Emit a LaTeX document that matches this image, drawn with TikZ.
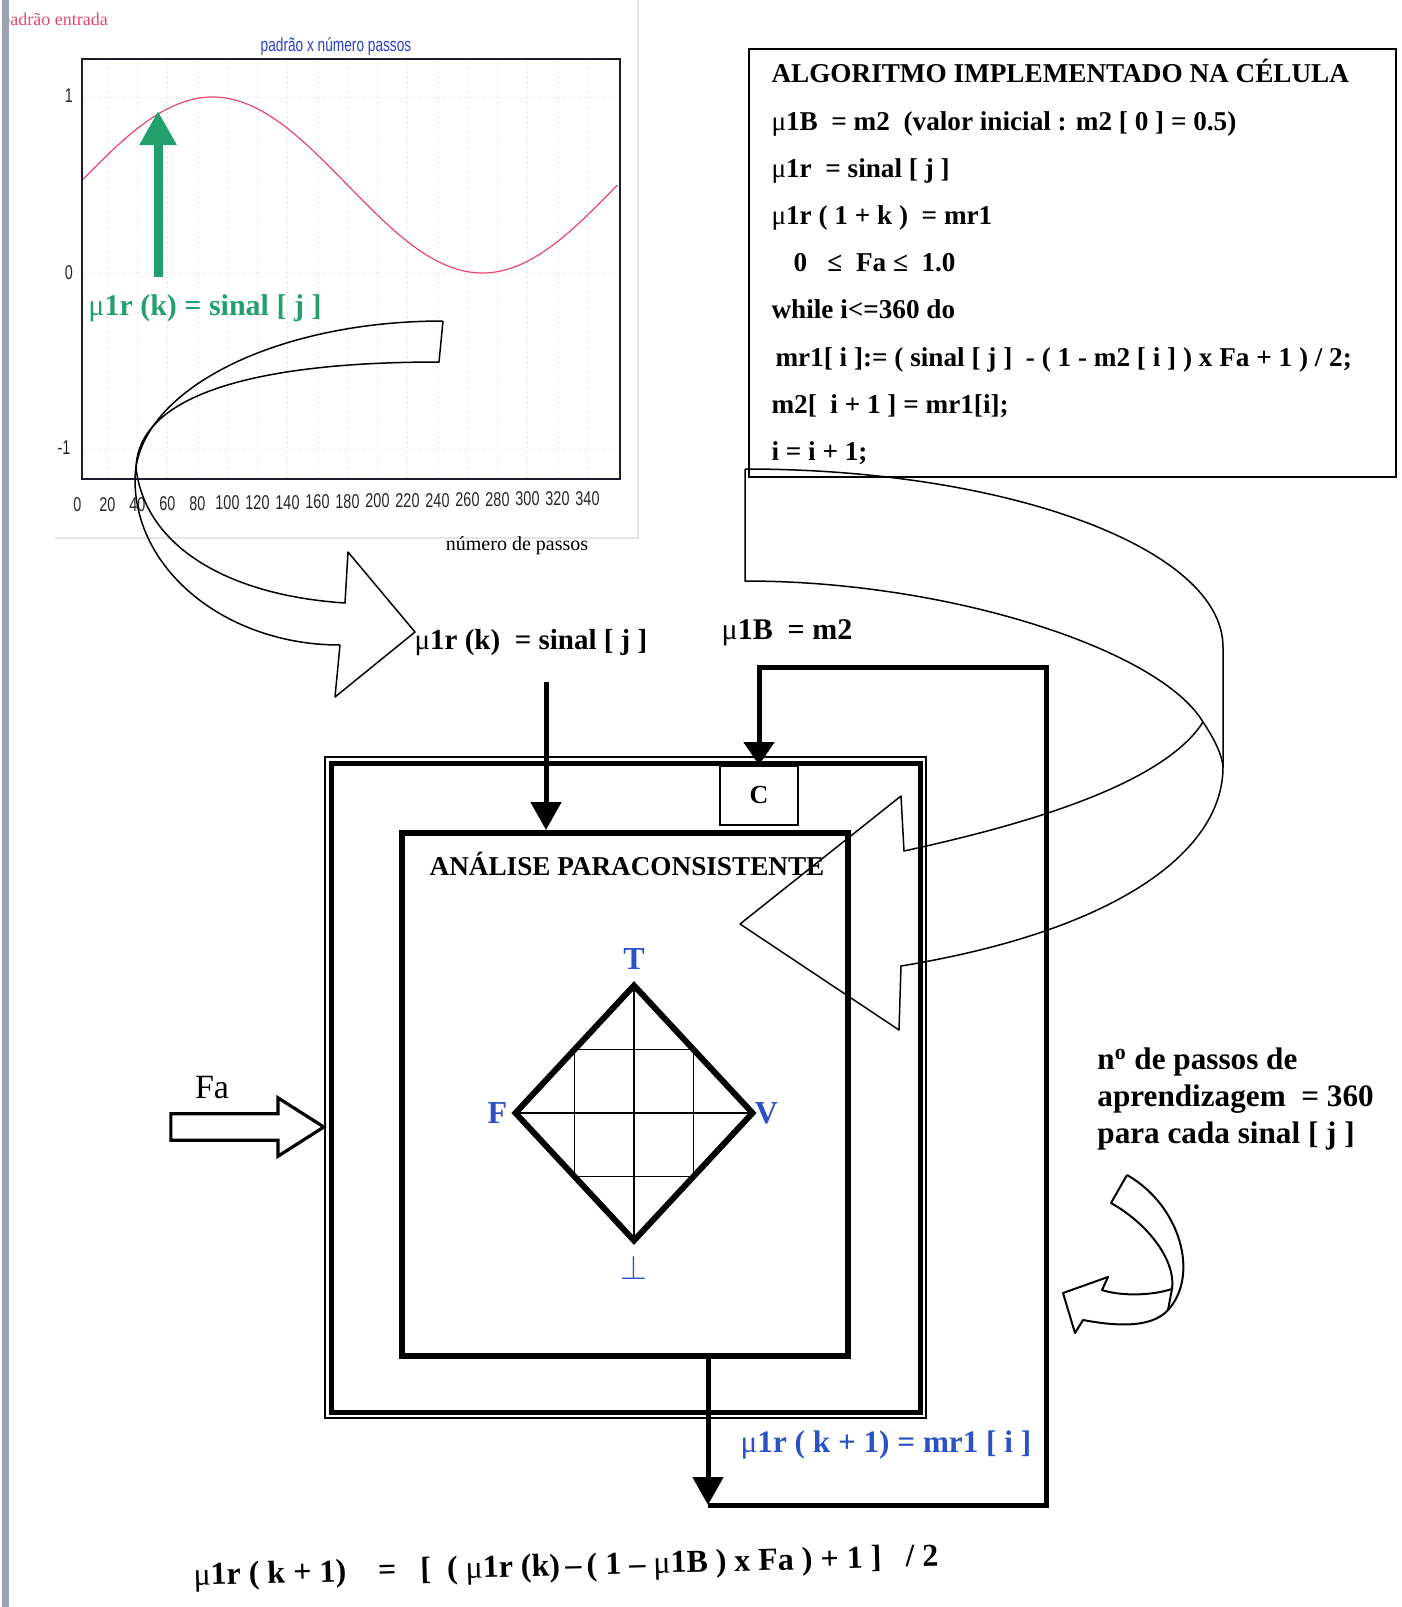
\documentclass[tikz,border=0pt]{standalone}
\usepackage{fontspec}
\setmainfont{Liberation Serif}
\newfontfamily\chartfont[FakeStretch=0.72]{Liberation Sans}
\usetikzlibrary{arrows.meta,positioning,shapes.geometric,shapes.arrows,calc}
\definecolor{plotframe}{HTML}{1C1C2C}
\definecolor{sinered}{HTML}{E8466E}
\definecolor{charttitle}{HTML}{2B3FC8}
\definecolor{signalgreen}{HTML}{22A06B}
\definecolor{cornerblue}{HTML}{2A52C4}
\definecolor{scanstrip}{HTML}{9BA3B5}
\newcommand{\mmu}{{\mdseries μ}}

\begin{document}
\begin{tikzpicture}[x=0.5pt, y=-0.5pt,
		every node/.style={inner sep=0pt},
		lbl/.style={font=\fontsize{15}{18}\selectfont\bfseries},
		ticklbl/.style={font=\chartfont\fontsize{10}{12}\selectfont, text=black!85},
		gridln/.style={gray!35, dotted, line width=0.5pt},
		plotbox/.style={draw=plotframe, line width=1.3pt,
				minimum width=269pt, minimum height=210pt},
		algframe/.style={draw, line width=0.9pt,
				minimum width=323.5pt, minimum height=214pt},
		algtext/.style={align=left, anchor=north west,
				font=\fontsize{13.6}{23.6}\selectfont\bfseries},
		cellbox/.style={draw, line width=2.5pt,
				minimum width=294.5pt, minimum height=324.5pt},
		anbox/.style={draw, line width=3pt,
				minimum width=223pt, minimum height=261.5pt},
		cornerlbl/.style={text=cornerblue, font=\fontsize{16}{18}\selectfont\bfseries},
		fablock/.style={single arrow, draw, line width=1.6pt, fill=white,
				inner xsep=0pt, inner ysep=5.8pt,
				minimum height=76.5pt, single arrow head extend=8pt,
				single arrow tip angle=65},
		flow/.style={line width=2.5pt, -{Triangle[length=14pt,width=15pt]}},
		loopln/.style={line width=2.5pt, -{Triangle[length=11.5pt,width=15pt]}},
		blockarr/.style={line width=0.75pt, line join=round},
	]
	\useasboundingbox (0,0) rectangle (1402,1607);

	% grafico do padrao de entrada
	\node[font=\fontsize{9}{10}\selectfont, text=sinered, anchor=west] (redtitle) at (1,21) {padrão entrada};
	\node[font=\chartfont\fontsize{9.5}{11}\selectfont, text=charttitle] (plottitle) at (336,46) {padrão x número passos};
	\draw[gray!20, line width=0.6pt] (55,538) -- (638,538) -- (638,0);
	\foreach \k in {1,...,17}
	\draw[gridln] ({77.5+30*\k},62) -- ({77.5+30*\k},478);
	\foreach \v in {97,273,449}
	\draw[gridln] (84,\v) -- (618,\v);
	\draw[sinered, line width=0.6pt] plot[domain=3:360, samples=90, smooth] ({77.5+1.5*\x},{185-88*sin(\x)});
	\node[plotbox] (plot) at (351,269) {};
	\node[ticklbl] (ytop) at (69,96) {1};
	\node[ticklbl] (ymid) at (69,273) {0};
	\node[ticklbl] (ybot) at (64,448) {-1};
	\foreach \t in {0,20,...,340}
	\node[ticklbl] (tick\t) at ({77.5+1.5*\t},{505-\t/50}) {\t};
	\node[font=\fontsize{10}{12}\selectfont] (xname) at (517,546) {número de passos};

	\node[lbl, text=signalgreen] (greenlbl) at (205,308) {\mmu1r (k) = sinal [ j ]};
	\coordinate (gfoot) at (158,277);
	\coordinate (gtip) at (158,111);
	\draw[line width=4.5pt, signalgreen, -{Triangle[length=17pt,width=17.5pt]}] (gfoot) -- (gtip);

	\draw[blockarr] (443,321) .. controls (273,321) and (135,392) .. (135,480)
	.. controls (135,571) and (227,645) .. (340,645)
	-- (335,697) -- (415,632) -- (348,552) -- (345,603)
	.. controls (225,595) and (145,545) .. (136,468);
	\draw[blockarr] (443,321) -- (439,362) .. controls (243,362) and (138,399) .. (136,468);

	% algoritmo
	\node[algframe] (algbox) at (1072.5,263) {};
	\node[algtext] (alg) at ([shift={(23,11)}]algbox.north west) {ALGORITMO IMPLEMENTADO NA CÉLULA\\
		\mmu1B ~= m2 ~(valor inicial : m2 [ 0 ] = 0.5)\\
		\mmu1r ~= sinal [ j ]\\
		\mmu1r ( 1 + k ) ~= mr1\\
		\hspace*{11pt}0 ~~≤ ~Fa ≤ ~1.0\\
		while i<=360 do\\
		\hspace*{2pt}mr1[ i ]:= ( sinal [ j ] ~- ( 1 - m2 [ i ] ) x Fa + 1 ) / 2;\\
		m2[ ~i + 1 ] = mr1[i];\\
		i = i + 1;};

	% celula
	\node[lbl, font=\fontsize{14.5}{18}\selectfont\bfseries] (inlbl) at (531,643) {\mmu1r (k) ~= sinal [ j ]};
	\node[lbl] (mblbl) at (787,633) {\mmu1B ~= m2};
	\node[cellbox] (cell) at (625.5,1087.5) {};
	\draw[line width=0.8pt] ([shift={(-3.5,-3.5)}]cell.north west) rectangle ([shift={(3.5,3.5)}]cell.south east);
	\node[anbox] (analise) at (625,1094.5) {};
	\node[font=\fontsize{13.6}{15}\selectfont\bfseries] (antitle) at (627,864) {ANÁLISE PARACONSISTENTE};
	\node[draw, line width=0.9pt, fill=white, minimum width=39pt, minimum height=29.5pt,
		font=\fontsize{13}{15}\selectfont\bfseries] (cbox) at (759,795.5) {C};

	\node[diamond, draw, line width=3pt, outer sep=0pt, minimum width=118.5pt, minimum height=127.5pt] (dia) at (634,1113) {};
	\draw[line width=0.6pt] (dia.north) -- (dia.south) (dia.west) -- (dia.east)
	($(dia.north)!0.5!(dia.west)$) rectangle ($(dia.south)!0.5!(dia.east)$);
	\node[cornerlbl, above=8pt of dia.north] (tlbl) {T};
	\node[cornerlbl, left=4pt of dia.west] (flbl) {F};
	\node[cornerlbl, right=1pt of dia.east] (vlbl) {V};
	\node[cornerlbl, below=7.5pt of dia.south] (botlbl) {$\bot$};

	\node[fablock] (fa) at (237,1127) {};
	\node[font=\fontsize{17}{20}\selectfont] (falbl) at (212,1088) {Fa};

	\coordinate (inpt) at (546,682);
	\draw[flow] (inpt) -- (inpt |- analise.north);
	\coordinate (outtip) at (708,1505);
	\coordinate (loopne) at (1046,667);
	\draw[flow] (analise.south -| outtip) -- (outtip);
	\draw[loopln] (outtip) -| (loopne) -| (cbox.north);

	\node[lbl, text=cornerblue, font=\fontsize{15.6}{18}\selectfont\bfseries] (outlbl) at (886,1445) {\mmu1r ( k + 1) = mr1 [ i ]};
	\node[font=\fontsize{15.6}{18.5}\selectfont\bfseries, align=left, anchor=west] (passos) at (1097,1099)
	{n\textsuperscript{o} de passos de\\aprendizagem ~= 360\\para cada sinal [ j ]};
	\node[lbl, font=\fontsize{16}{18}\selectfont\bfseries, rotate=1.5] (formula) at (566,1568)
	{\mmu1r ( k + 1) ~~~= ~~[ ~( \mmu1r (k)\,–\,( 1 – \mmu1B ) x Fa ) + 1 ] ~~/ 2};

	% setas curvas
	\draw[blockarr] (745,469) .. controls (1009,469) and (1223,549) .. (1223,647)
	-- (1223,767) .. controls (1223,850) and (1120,930) .. (901,966)
	-- (899,1030) -- (740,924) -- (901,796) -- (904,851)
	.. controls (1000,830) and (1160,790) .. (1203,722);
	\draw[blockarr] (1223,767) .. controls (1222,755) and (1215,740) .. (1203,722)
	.. controls (1160,650) and (950,581) .. (745,581) -- (745,469);

	\draw[blockarr, line width=1pt] (1127,1175) .. controls (1180,1205) and (1200,1275) .. (1168,1310)
	.. controls (1150,1330) and (1110,1325) .. (1083,1320)
	-- (1075,1333) -- (1063,1293) -- (1108,1277) -- (1102,1290)
	.. controls (1120,1296) and (1150,1296) .. (1172,1289);
	\draw[blockarr, line width=1pt] (1168,1310) -- (1172,1289) .. controls (1176,1262) and (1150,1225) .. (1111,1203) -- (1127,1175);

	\fill[scanstrip] (1.5,0) rectangle (8.5,1607);
\end{tikzpicture}
\end{document}
